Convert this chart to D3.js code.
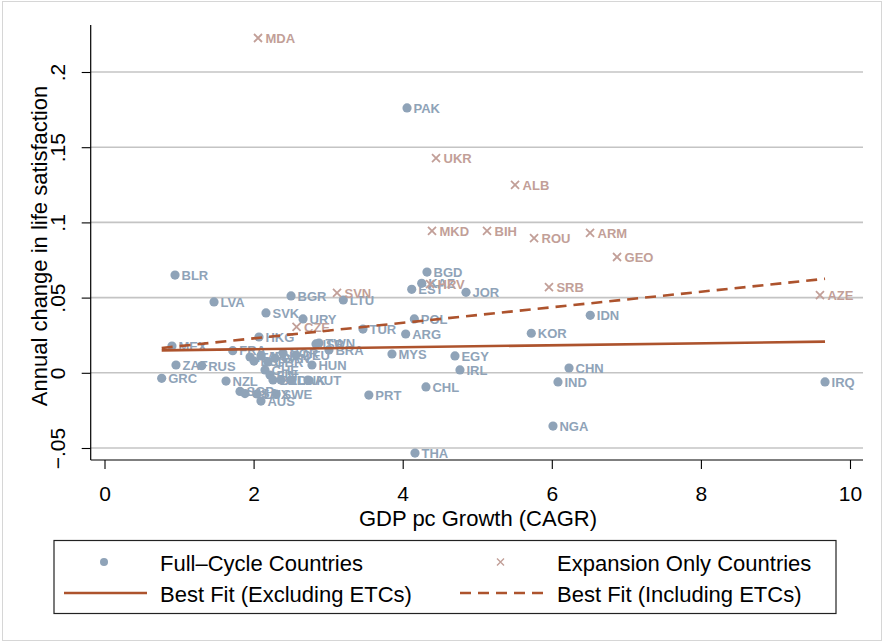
<!DOCTYPE html>
<html>
<head>
<meta charset="utf-8">
<script src="https://cdn.jsdelivr.net/npm/d3@7"></script>
<style>
  html, body { margin: 0; padding: 0; background: #fff; }
  svg { display: block; }
  text { font-family: "Liberation Sans", Arial, Helvetica, sans-serif; }
</style>
</head>
<body>
<svg id="chart" width="885" height="643"></svg>
<script>
// ---- Data ----
const fullNames = ["PAK","BLR","LVA","BGR","LTU","SVK","URY","BGD","KAZ","EST","JOR","POL","ARG","TUR","KOR","IDN","MYS","EGY","IRL","CHN","IND","IRQ","CHL","PRT","NGA","THA","HKG","MEX","ZAF","RUS","GRC","NZL","FRA",
  "ITA","ESP","JPN","GBR","CAN","NOR","DEU","HUN","ISR","TWN","BRA","CHE","FIN","BEL","NLD","DNK","AUT","SGP","USA","LUX","AUS","SWE"];
const fullX = [4.058,0.946,1.469,2.502,3.203,2.166,2.663,4.326,4.255,4.121,4.849,4.156,4.040,3.467,5.725,6.516,3.856,4.701,4.768,6.231,6.083,9.665,4.312,3.546,6.016,4.165,2.072,0.905,0.959,1.304,0.767,1.630,1.720,
  1.952,2.005,2.099,2.193,2.287,2.394,2.569,2.783,2.837,2.877,3.011,2.153,2.220,2.260,2.367,2.501,2.729,1.818,1.885,2.046,2.099,2.301];
const fullY = [0.1761,0.0650,0.0471,0.0511,0.0484,0.0398,0.0358,0.0670,0.0595,0.0555,0.0535,0.0358,0.0258,0.0291,0.0263,0.0382,0.0125,0.0112,0.0019,0.0032,-0.0061,-0.0061,-0.0094,-0.0148,-0.0354,-0.0534,0.0238,0.0178,0.0052,0.0047,-0.0037,-0.0055,0.0147,
  0.0105,0.0078,0.0112,0.0072,0.0098,0.0132,0.0118,0.0052,0.0192,0.0198,0.0152,0.0019,-0.0015,-0.0048,-0.0048,-0.0048,-0.0048,-0.0124,-0.0138,-0.0141,-0.0188,-0.0141];

const expNames = ["MDA","UKR","ALB","MKD","BIH","ROU","ARM","GEO","SRB","AZE","SVN","HRV","CZE"];
const expX = [2.059,4.447,5.507,4.393,5.131,5.762,6.513,6.875,5.962,9.597,3.119,4.367,2.576];
const expY = [0.2226,0.1428,0.1249,0.0943,0.0943,0.0896,0.0930,0.0770,0.0570,0.0517,0.0531,0.0590,0.0305];

const fitExclX = [0.767, 9.665];
const fitExclY = [0.0149, 0.0207];
const fitInclX = [0.767, 9.665];
const fitInclY = [0.0165, 0.0625];

const xTicks = [0, 2, 4, 6, 8, 10];
const xTickLabels = ["0", "2", "4", "6", "8", "10"];
const yTicks = [-0.05, 0, 0.05, 0.1, 0.15, 0.2];
const yTickLabels = ["\u2212.05", "0", ".05", ".1", ".15", ".2"];

const legendLabels = ["Full\u2013Cycle Countries", "Expansion Only Countries", "Best Fit (Excluding ETCs)", "Best Fit (Including ETCs)"];

// ---- Styles ----
const blue = "#8fa3b8";
const rose = "#c29f98";
const fitColor = "#ad532d";
const gridColor = "#c4c4c4";

const svg = d3.select("#chart");

// outer light frame
svg.append("rect").attr("x", 2.5).attr("y", 1.5).attr("width", 879).attr("height", 639)
  .attr("fill", "#fff").attr("stroke", "#d6d6d6").attr("stroke-width", 1);

const plot = { left: 90.7, right: 863, top: 25, bottom: 460 };

const x = d3.scaleLinear()
  .domain([(plot.left - 104.5) / 74.55, (plot.right - 104.5) / 74.55])
  .range([plot.left, plot.right]);
const y = d3.scaleLinear()
  .domain([(372.8 - plot.bottom) / 1504, (372.8 - plot.top) / 1504])
  .range([plot.bottom, plot.top]);

// gridlines
svg.append("g").selectAll("line").data(yTicks).join("line")
  .attr("x1", plot.left).attr("x2", plot.right)
  .attr("y1", d => y(d)).attr("y2", d => y(d))
  .attr("stroke", gridColor).attr("stroke-width", 1.6);

// y axis
const yAxis = svg.append("g")
  .attr("transform", `translate(${plot.left},0)`)
  .call(d3.axisLeft(y).tickValues(yTicks).tickSize(9).tickFormat((d, i) => yTickLabels[i]));
yAxis.select(".domain").attr("stroke", "#000").attr("stroke-width", 1.2)
  .attr("d", `M0,${plot.top}V${plot.bottom}`);
yAxis.selectAll(".tick line").attr("stroke", "#000").attr("stroke-width", 1.1);
yAxis.selectAll(".tick text")
  .attr("x", null).attr("dy", null)
  .attr("transform", "translate(-26,0) rotate(-90)")
  .attr("text-anchor", "middle")
  .attr("font-size", 21).attr("fill", "#000")
  .attr("font-family", "Liberation Sans, Arial, sans-serif");

// x axis
const xAxis = svg.append("g")
  .attr("transform", `translate(0,${plot.bottom})`)
  .call(d3.axisBottom(x).tickValues(xTicks).tickSize(9).tickFormat((d, i) => xTickLabels[i]));
xAxis.select(".domain").attr("stroke", "#000").attr("stroke-width", 1.2)
  .attr("d", `M${plot.left},0H${plot.right}`);
xAxis.selectAll(".tick line").attr("stroke", "#000").attr("stroke-width", 1.1);
xAxis.selectAll(".tick text")
  .attr("y", 40.5).attr("dy", null)
  .attr("font-size", 21).attr("fill", "#000")
  .attr("font-family", "Liberation Sans, Arial, sans-serif");

// axis titles
svg.append("text").attr("x", 478).attr("y", 526).attr("text-anchor", "middle")
  .attr("font-size", 22).text("GDP pc Growth (CAGR)");
svg.append("text").attr("transform", "translate(47,246) rotate(-90)").attr("text-anchor", "middle")
  .attr("font-size", 22).text("Annual change in life satisfaction");

// full-cycle points
const fullData = fullNames.map((n, i) => ({ n, x: fullX[i], y: fullY[i] }));
const expData = expNames.map((n, i) => ({ n, x: expX[i], y: expY[i] }));

const gFull = svg.append("g");
gFull.selectAll("circle").data(fullData).join("circle")
  .attr("cx", d => x(d.x)).attr("cy", d => y(d.y)).attr("r", 4.6).attr("fill", blue);
gFull.selectAll("text").data(fullData).join("text")
  .attr("x", d => x(d.x) + 6.5).attr("y", d => y(d.y) + 4.8)
  .attr("font-size", 13).attr("font-weight", "bold").attr("fill", blue)
  .text(d => d.n);

// expansion points
const gExp = svg.append("g");
const s = 4;
gExp.selectAll("path").data(expData).join("path")
  .attr("d", d => {
    const cx = x(d.x), cy = y(d.y);
    return `M${cx - s},${cy - s}L${cx + s},${cy + s}M${cx - s},${cy + s}L${cx + s},${cy - s}`;
  })
  .attr("stroke", rose).attr("stroke-width", 1.8).attr("fill", "none");
gExp.selectAll("text").data(expData).join("text")
  .attr("x", d => x(d.x) + 7.5).attr("y", d => y(d.y) + 4.8)
  .attr("font-size", 13).attr("font-weight", "bold").attr("fill", rose)
  .text(d => d.n);

// fit lines
const line = d3.line().x(d => x(d[0])).y(d => y(d[1]));
svg.append("path").datum(fitExclX.map((v, i) => [v, fitExclY[i]]))
  .attr("d", line).attr("stroke", fitColor).attr("stroke-width", 2.6).attr("fill", "none");
svg.append("path").datum(fitInclX.map((v, i) => [v, fitInclY[i]]))
  .attr("d", line).attr("stroke", fitColor).attr("stroke-width", 2.6).attr("fill", "none")
  .attr("stroke-dasharray", "11,7");

// legend
const lg = svg.append("g");
lg.append("rect").attr("x", 54).attr("y", 540.5).attr("width", 782).attr("height", 73)
  .attr("fill", "#fff").attr("stroke", "#222").attr("stroke-width", 1.2);
lg.append("circle").attr("cx", 104).attr("cy", 562).attr("r", 4).attr("fill", blue);
const lx = 500.5, ly = 562, ls = 3.5;
lg.append("path").attr("d", `M${lx - ls},${ly - ls}L${lx + ls},${ly + ls}M${lx - ls},${ly + ls}L${lx + ls},${ly - ls}`)
  .attr("stroke", rose).attr("stroke-width", 1.4);
lg.append("line").attr("x1", 64).attr("x2", 147).attr("y1", 593).attr("y2", 593)
  .attr("stroke", fitColor).attr("stroke-width", 2.6);
lg.append("line").attr("x1", 460).attr("x2", 543).attr("y1", 593).attr("y2", 593)
  .attr("stroke", fitColor).attr("stroke-width", 2.6).attr("stroke-dasharray", "11,7");
const legPos = [[160, 571], [557, 571], [160, 601.5], [557, 601.5]];
lg.selectAll("text.lab").data(legendLabels).join("text").attr("class", "lab")
  .attr("x", (d, i) => legPos[i][0]).attr("y", (d, i) => legPos[i][1])
  .attr("font-size", 22).attr("fill", "#000").text(d => d);
</script>
</body>
</html>
